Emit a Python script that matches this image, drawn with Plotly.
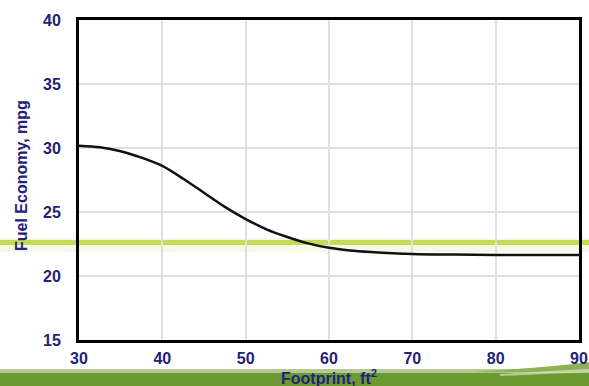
import plotly.graph_objects as go

footprint = [30, 32.5, 35, 37.5, 40, 42.5, 45, 47.5, 50, 52.5, 55, 57.5, 60, 62.5, 65, 70, 75, 80, 85, 90]
mpg = [30.17, 30.05, 29.75, 29.25, 28.6, 27.6, 26.5, 25.4, 24.45, 23.65, 23.05, 22.55, 22.2, 22.0, 21.88, 21.72, 21.67, 21.65, 21.65, 21.65]

x_ticks = [30, 40, 50, 60, 70, 80, 90]
y_ticks = [15, 20, 25, 30, 35, 40]

W, H = 589, 386
L, R, T, B = 79, 10, 20, 46
pw, ph = W - L - R, H - T - B

def px(x):
    return (x - L) / pw

def py(y):
    return (H - B - y) / ph

navy = "#22227a"
fig = go.Figure()
fig.add_trace(go.Scatter(x=footprint, y=mpg, mode="lines",
                         line=dict(color="#111111", width=2.5, shape="spline", smoothing=0.8),
                         hoverinfo="skip", showlegend=False))

shapes = []
# pale green horizontal band
shapes.append(dict(type="rect", xref="paper", yref="paper", x0=px(0), x1=px(W), y0=py(252), y1=py(238),
                   fillcolor="#f6f9e6", line_width=0, layer="below"))
shapes.append(dict(type="rect", xref="paper", yref="paper", x0=px(0), x1=px(W), y0=py(245), y1=py(240),
                   fillcolor="#c6da58", line_width=0, layer="below"))
# bottom green band
shapes.append(dict(type="rect", xref="paper", yref="paper", x0=px(0), x1=px(W), y0=py(374), y1=py(369),
                   fillcolor="#b3c893", line_width=0, layer="below"))
shapes.append(dict(type="rect", xref="paper", yref="paper", x0=px(0), x1=px(W), y0=py(H + 2), y1=py(373),
                   fillcolor="#6b9a31", line_width=0, layer="below"))
# swoosh at right
path = "M {},{} Q {},{} {},{} L {},{} Z".format(
    px(470), py(372), px(540), py(368), px(W + 2), py(362), px(W + 2), py(372))
shapes.append(dict(type="path", xref="paper", yref="paper", path=path,
                   fillcolor="#8fb258", line_width=0, layer="below"))
path2 = "M {},{} Q {},{} {},{} L {},{} Q {},{} {},{} Z".format(
    px(500), py(374), px(550), py(371), px(W + 2), py(369), px(W + 2), py(372), px(550), py(374), px(500), py(376))
shapes.append(dict(type="path", xref="paper", yref="paper", path=path2,
                   fillcolor="#d6e2c4", line_width=0, layer="below", opacity=0.7))

fig.update_layout(
    width=W, height=H,
    margin=dict(l=L, r=R, t=T, b=B, autoexpand=False),
    paper_bgcolor="white",
    plot_bgcolor="rgba(0,0,0,0)",
    font=dict(family="Liberation Sans, Arial, sans-serif", color=navy, size=15),
    shapes=shapes,
    showlegend=False,
    xaxis=dict(range=[30, 90], tickvals=x_ticks, ticktext=[str(v) for v in x_ticks],
               showgrid=True, gridcolor="#e0e0e0", gridwidth=2,
               showline=True, linecolor="black", linewidth=3, mirror=True,
               ticks="", ticklabelstandoff=2, automargin=False,
               tickfont=dict(size=16, color=navy, family="Liberation Sans, Arial", weight="bold"),
               zeroline=False),
    yaxis=dict(range=[15, 40], tickvals=y_ticks, ticktext=[str(v) for v in y_ticks],
               showgrid=True, gridcolor="#e0e0e0", gridwidth=2,
               showline=True, linecolor="black", linewidth=3, mirror=True,
               ticks="", ticklabelstandoff=12, automargin=False,
               tickfont=dict(size=16, color=navy, family="Liberation Sans, Arial", weight="bold"),
               zeroline=False),
    annotations=[
        dict(text="<b>Fuel Economy, mpg</b>", xref="paper", yref="paper",
             x=px(21), y=py(176), textangle=-90, showarrow=False,
             font=dict(size=16, color=navy), xanchor="center", yanchor="middle"),
        dict(text="<b>Footprint, ft<sup>2</sup></b>", xref="paper", yref="paper",
             x=px(329), y=py(377), showarrow=False,
             font=dict(size=16, color=navy), xanchor="center", yanchor="middle"),
    ],
)

fig.write_html("out.html", config={"displayModeBar": False},
               post_script="document.body.style.margin='0';document.body.style.overflow='hidden';")
